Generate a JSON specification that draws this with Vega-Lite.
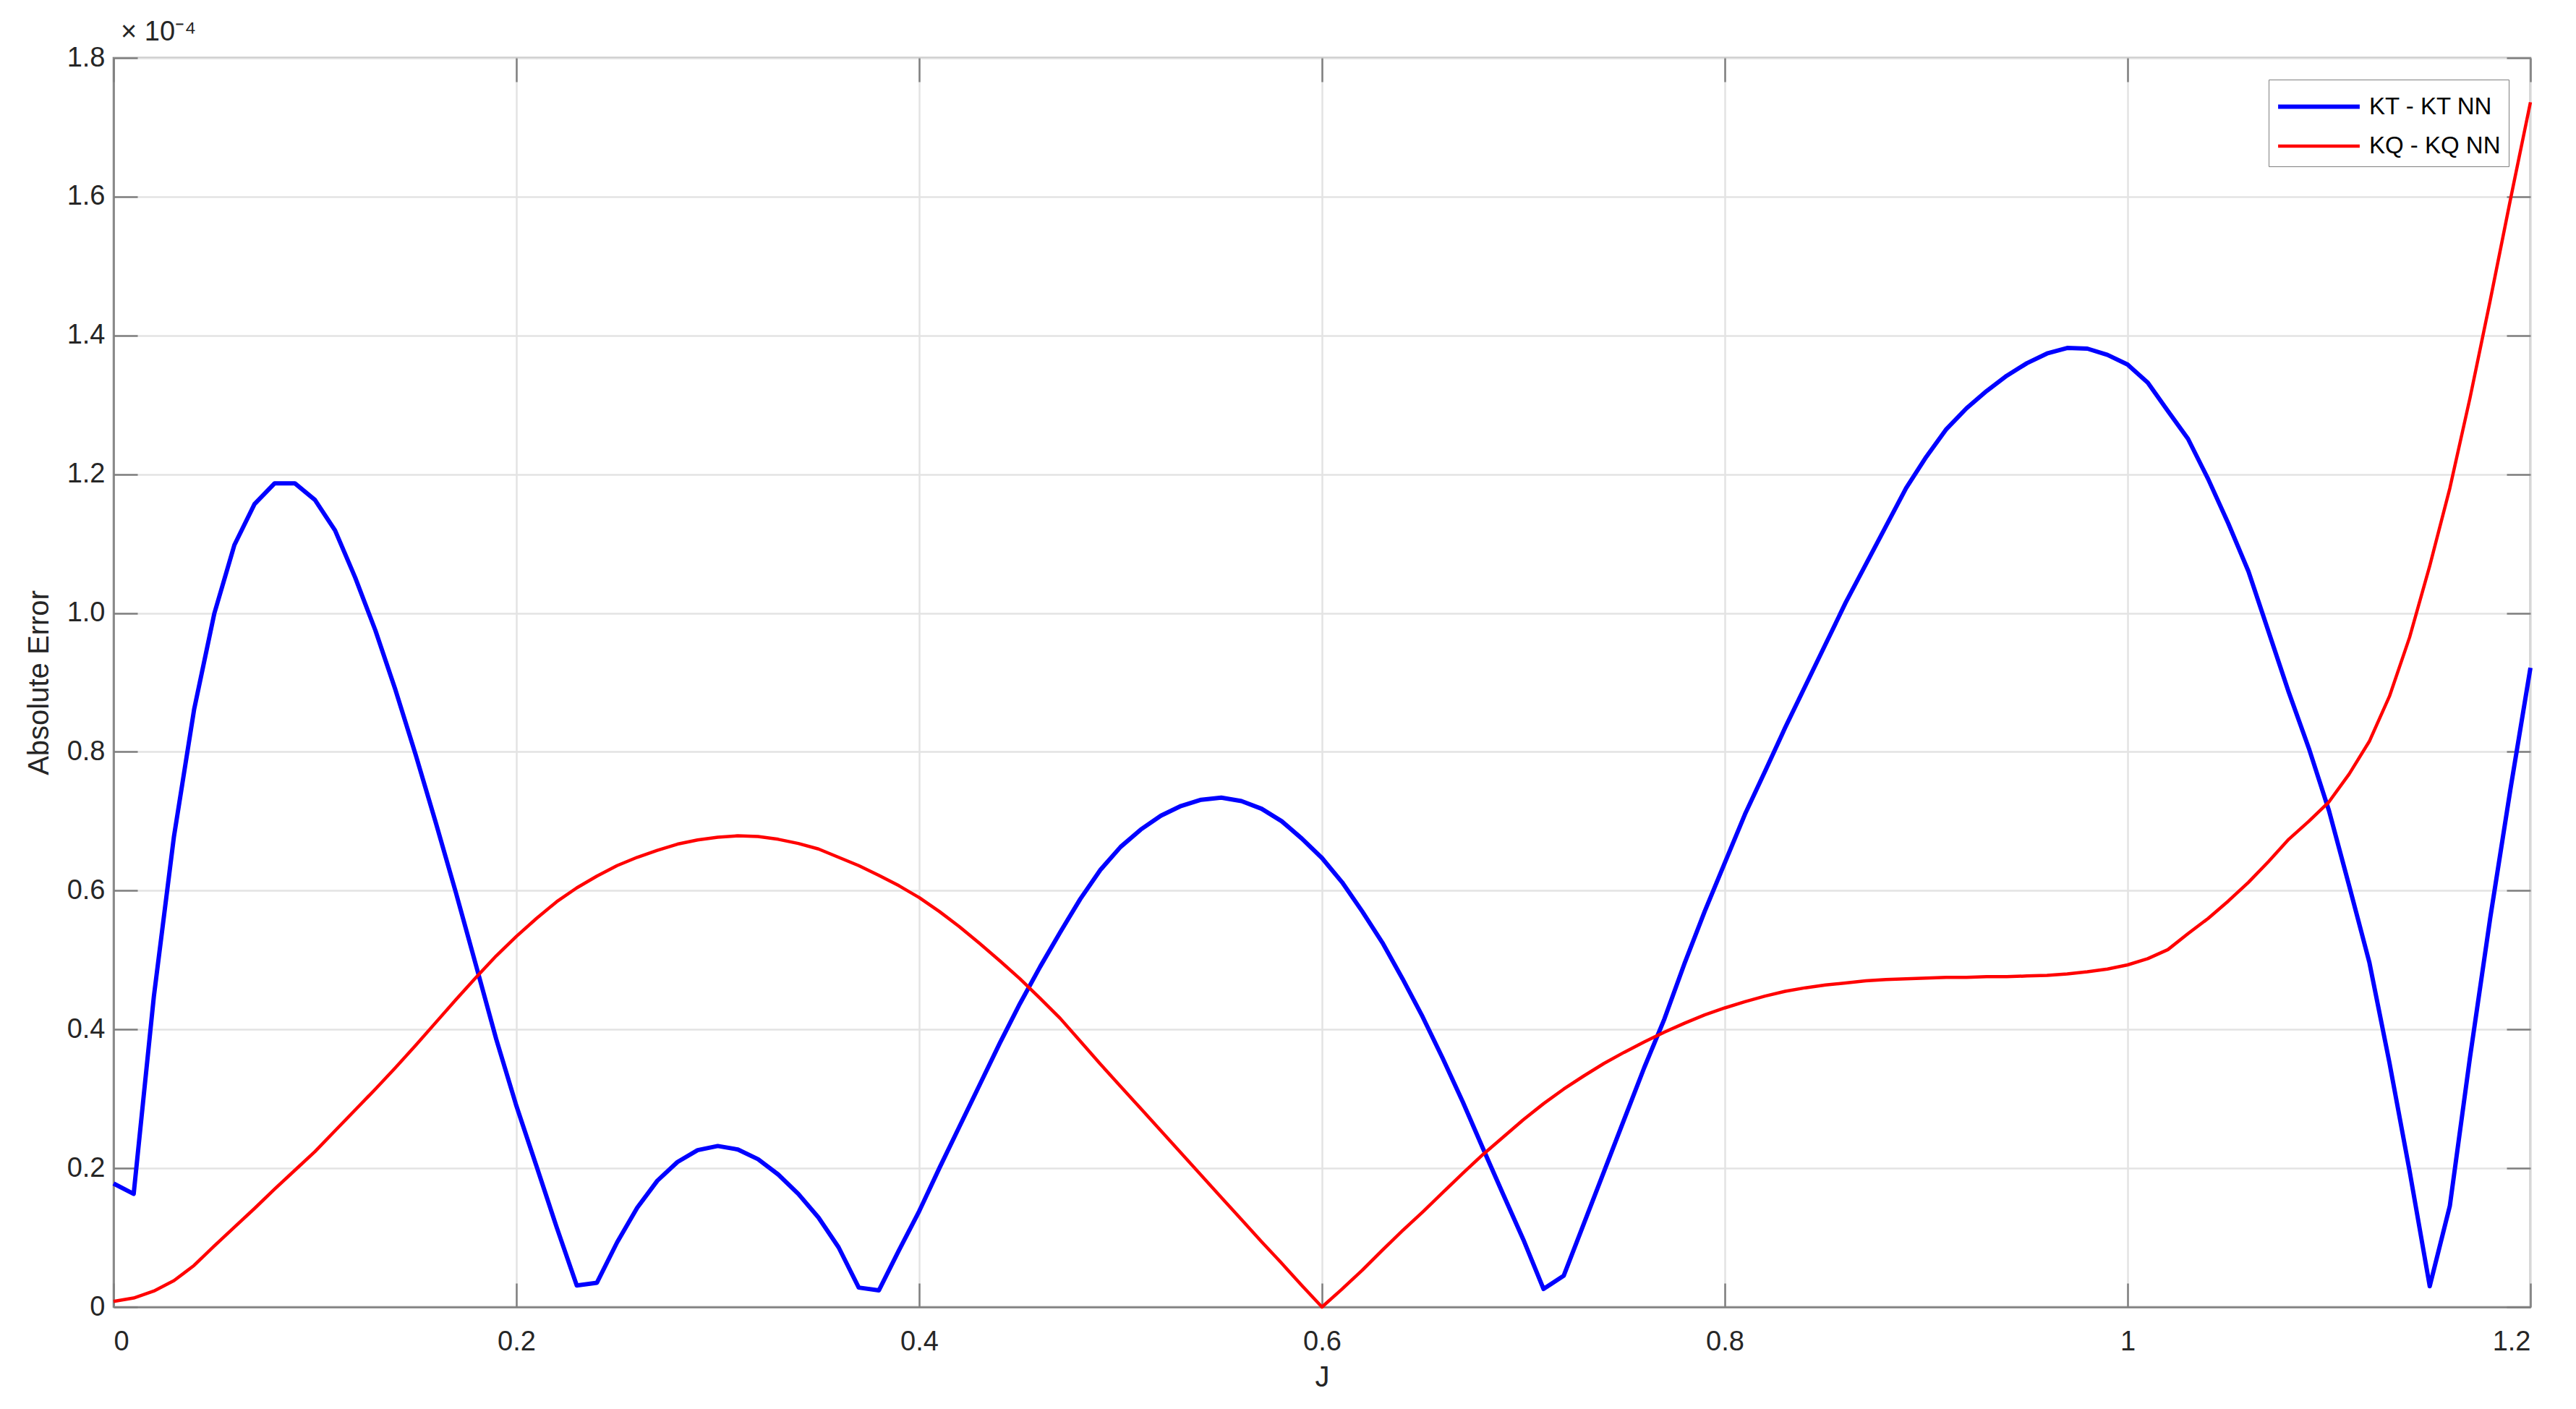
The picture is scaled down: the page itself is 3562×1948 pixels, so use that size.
{
  "$schema": "https://vega.github.io/schema/vega-lite/v6.json",
  "width": 3342,
  "height": 1727,
  "autosize": {"type": "none"},
  "padding": {"left": 157, "top": 80, "right": 63, "bottom": 141},
  "background": "white",
  "config": {
    "font": "Liberation Sans",
    "view": {"stroke": "#7f7f7f", "strokeWidth": 2.5},
    "axis": {
      "domainColor": "#7f7f7f",
      "domainWidth": 2.5,
      "tickColor": "#7f7f7f",
      "tickWidth": 2.5,
      "tickSize": -33,
      "gridColor": "#e3e3e3",
      "gridWidth": 2.5,
      "labelFont": "Liberation Sans",
      "labelFontSize": 38,
      "labelColor": "#262626",
      "titleFont": "Liberation Sans",
      "titleFontSize": 40,
      "titleFontWeight": "normal",
      "titleColor": "#262626"
    },
    "legend": {
      "orient": "top-right", "offset": 30,
      "symbolType": "M-2.4,0H2.4", "symbolSize": 2209, "symbolOffset": 32,
      "labelFontSize": 33, "labelFont": "Liberation Sans", "labelColor": "#000000", "labelOffset": 43, "labelLimit": 600,
      "fillColor": "white", "strokeColor": "#7f7f7f", "padding": 11, "rowPadding": 11
    }
  },
  "title": {
    "text": "× 10⁻⁴",
    "anchor": "start",
    "frame": "group",
    "fontSize": 38,
    "fontWeight": "normal",
    "font": "Liberation Sans",
    "color": "#262626",
    "dx": 10,
    "offset": -3
  },
  "datasets": {
    "kt": [
      {"J":0.00,"e":0.178,"s":"KT - KT NN"},{"J":0.01,"e":0.163,"s":"KT - KT NN"},{"J":0.02,"e":0.447,"s":"KT - KT NN"},{"J":0.03,"e":0.678,"s":"KT - KT NN"},{"J":0.04,"e":0.861,"s":"KT - KT NN"},{"J":0.05,"e":0.999,"s":"KT - KT NN"},{"J":0.06,"e":1.098,"s":"KT - KT NN"},{"J":0.07,"e":1.157,"s":"KT - KT NN"},{"J":0.08,"e":1.187,"s":"KT - KT NN"},{"J":0.09,"e":1.187,"s":"KT - KT NN"},
      {"J":0.10,"e":1.163,"s":"KT - KT NN"},{"J":0.11,"e":1.119,"s":"KT - KT NN"},{"J":0.12,"e":1.051,"s":"KT - KT NN"},{"J":0.13,"e":0.975,"s":"KT - KT NN"},{"J":0.14,"e":0.889,"s":"KT - KT NN"},{"J":0.15,"e":0.796,"s":"KT - KT NN"},{"J":0.16,"e":0.698,"s":"KT - KT NN"},{"J":0.17,"e":0.597,"s":"KT - KT NN"},{"J":0.18,"e":0.492,"s":"KT - KT NN"},{"J":0.19,"e":0.386,"s":"KT - KT NN"},
      {"J":0.20,"e":0.290,"s":"KT - KT NN"},{"J":0.21,"e":0.203,"s":"KT - KT NN"},{"J":0.22,"e":0.115,"s":"KT - KT NN"},{"J":0.23,"e":0.031,"s":"KT - KT NN"},{"J":0.24,"e":0.035,"s":"KT - KT NN"},{"J":0.25,"e":0.093,"s":"KT - KT NN"},{"J":0.26,"e":0.143,"s":"KT - KT NN"},{"J":0.27,"e":0.182,"s":"KT - KT NN"},{"J":0.28,"e":0.209,"s":"KT - KT NN"},{"J":0.29,"e":0.226,"s":"KT - KT NN"},
      {"J":0.30,"e":0.232,"s":"KT - KT NN"},{"J":0.31,"e":0.227,"s":"KT - KT NN"},{"J":0.32,"e":0.213,"s":"KT - KT NN"},{"J":0.33,"e":0.191,"s":"KT - KT NN"},{"J":0.34,"e":0.163,"s":"KT - KT NN"},{"J":0.35,"e":0.129,"s":"KT - KT NN"},{"J":0.36,"e":0.086,"s":"KT - KT NN"},{"J":0.37,"e":0.028,"s":"KT - KT NN"},{"J":0.38,"e":0.024,"s":"KT - KT NN"},{"J":0.39,"e":0.082,"s":"KT - KT NN"},
      {"J":0.40,"e":0.138,"s":"KT - KT NN"},{"J":0.41,"e":0.200,"s":"KT - KT NN"},{"J":0.42,"e":0.260,"s":"KT - KT NN"},{"J":0.43,"e":0.320,"s":"KT - KT NN"},{"J":0.44,"e":0.380,"s":"KT - KT NN"},{"J":0.45,"e":0.437,"s":"KT - KT NN"},{"J":0.46,"e":0.490,"s":"KT - KT NN"},{"J":0.47,"e":0.540,"s":"KT - KT NN"},{"J":0.48,"e":0.588,"s":"KT - KT NN"},{"J":0.49,"e":0.630,"s":"KT - KT NN"},
      {"J":0.50,"e":0.663,"s":"KT - KT NN"},{"J":0.51,"e":0.688,"s":"KT - KT NN"},{"J":0.52,"e":0.708,"s":"KT - KT NN"},{"J":0.53,"e":0.722,"s":"KT - KT NN"},{"J":0.54,"e":0.731,"s":"KT - KT NN"},{"J":0.55,"e":0.734,"s":"KT - KT NN"},{"J":0.56,"e":0.729,"s":"KT - KT NN"},{"J":0.57,"e":0.718,"s":"KT - KT NN"},{"J":0.58,"e":0.700,"s":"KT - KT NN"},{"J":0.59,"e":0.675,"s":"KT - KT NN"},
      {"J":0.60,"e":0.647,"s":"KT - KT NN"},{"J":0.61,"e":0.612,"s":"KT - KT NN"},{"J":0.62,"e":0.570,"s":"KT - KT NN"},{"J":0.63,"e":0.525,"s":"KT - KT NN"},{"J":0.64,"e":0.473,"s":"KT - KT NN"},{"J":0.65,"e":0.418,"s":"KT - KT NN"},{"J":0.66,"e":0.358,"s":"KT - KT NN"},{"J":0.67,"e":0.295,"s":"KT - KT NN"},{"J":0.68,"e":0.228,"s":"KT - KT NN"},{"J":0.69,"e":0.162,"s":"KT - KT NN"},
      {"J":0.70,"e":0.097,"s":"KT - KT NN"},{"J":0.71,"e":0.026,"s":"KT - KT NN"},{"J":0.72,"e":0.045,"s":"KT - KT NN"},{"J":0.73,"e":0.120,"s":"KT - KT NN"},{"J":0.74,"e":0.195,"s":"KT - KT NN"},{"J":0.75,"e":0.270,"s":"KT - KT NN"},{"J":0.76,"e":0.345,"s":"KT - KT NN"},{"J":0.77,"e":0.415,"s":"KT - KT NN"},{"J":0.78,"e":0.495,"s":"KT - KT NN"},{"J":0.79,"e":0.570,"s":"KT - KT NN"},
      {"J":0.80,"e":0.640,"s":"KT - KT NN"},{"J":0.81,"e":0.710,"s":"KT - KT NN"},{"J":0.82,"e":0.772,"s":"KT - KT NN"},{"J":0.83,"e":0.835,"s":"KT - KT NN"},{"J":0.84,"e":0.895,"s":"KT - KT NN"},{"J":0.85,"e":0.955,"s":"KT - KT NN"},{"J":0.86,"e":1.015,"s":"KT - KT NN"},{"J":0.87,"e":1.070,"s":"KT - KT NN"},{"J":0.88,"e":1.125,"s":"KT - KT NN"},{"J":0.89,"e":1.180,"s":"KT - KT NN"},
      {"J":0.90,"e":1.225,"s":"KT - KT NN"},{"J":0.91,"e":1.265,"s":"KT - KT NN"},{"J":0.92,"e":1.295,"s":"KT - KT NN"},{"J":0.93,"e":1.320,"s":"KT - KT NN"},{"J":0.94,"e":1.342,"s":"KT - KT NN"},{"J":0.95,"e":1.360,"s":"KT - KT NN"},{"J":0.96,"e":1.374,"s":"KT - KT NN"},{"J":0.97,"e":1.382,"s":"KT - KT NN"},{"J":0.98,"e":1.381,"s":"KT - KT NN"},{"J":0.99,"e":1.372,"s":"KT - KT NN"},
      {"J":1.00,"e":1.358,"s":"KT - KT NN"},{"J":1.01,"e":1.332,"s":"KT - KT NN"},{"J":1.02,"e":1.291,"s":"KT - KT NN"},{"J":1.03,"e":1.251,"s":"KT - KT NN"},{"J":1.04,"e":1.193,"s":"KT - KT NN"},{"J":1.05,"e":1.129,"s":"KT - KT NN"},{"J":1.06,"e":1.060,"s":"KT - KT NN"},{"J":1.07,"e":0.973,"s":"KT - KT NN"},{"J":1.08,"e":0.886,"s":"KT - KT NN"},{"J":1.09,"e":0.805,"s":"KT - KT NN"},
      {"J":1.10,"e":0.715,"s":"KT - KT NN"},{"J":1.11,"e":0.607,"s":"KT - KT NN"},{"J":1.12,"e":0.497,"s":"KT - KT NN"},{"J":1.13,"e":0.352,"s":"KT - KT NN"},{"J":1.14,"e":0.196,"s":"KT - KT NN"},{"J":1.15,"e":0.030,"s":"KT - KT NN"},{"J":1.16,"e":0.146,"s":"KT - KT NN"},{"J":1.17,"e":0.360,"s":"KT - KT NN"},{"J":1.18,"e":0.560,"s":"KT - KT NN"},{"J":1.19,"e":0.745,"s":"KT - KT NN"},
      {"J":1.20,"e":0.921,"s":"KT - KT NN"}
    ],
    "kq": [
      {"J":0.00,"e":0.008,"s":"KQ - KQ NN"},{"J":0.01,"e":0.013,"s":"KQ - KQ NN"},{"J":0.02,"e":0.023,"s":"KQ - KQ NN"},{"J":0.03,"e":0.038,"s":"KQ - KQ NN"},{"J":0.04,"e":0.060,"s":"KQ - KQ NN"},{"J":0.05,"e":0.088,"s":"KQ - KQ NN"},{"J":0.06,"e":0.115,"s":"KQ - KQ NN"},{"J":0.07,"e":0.142,"s":"KQ - KQ NN"},{"J":0.08,"e":0.170,"s":"KQ - KQ NN"},{"J":0.09,"e":0.197,"s":"KQ - KQ NN"},
      {"J":0.10,"e":0.224,"s":"KQ - KQ NN"},{"J":0.11,"e":0.254,"s":"KQ - KQ NN"},{"J":0.12,"e":0.284,"s":"KQ - KQ NN"},{"J":0.13,"e":0.314,"s":"KQ - KQ NN"},{"J":0.14,"e":0.345,"s":"KQ - KQ NN"},{"J":0.15,"e":0.377,"s":"KQ - KQ NN"},{"J":0.16,"e":0.410,"s":"KQ - KQ NN"},{"J":0.17,"e":0.443,"s":"KQ - KQ NN"},{"J":0.18,"e":0.475,"s":"KQ - KQ NN"},{"J":0.19,"e":0.506,"s":"KQ - KQ NN"},
      {"J":0.20,"e":0.534,"s":"KQ - KQ NN"},{"J":0.21,"e":0.560,"s":"KQ - KQ NN"},{"J":0.22,"e":0.584,"s":"KQ - KQ NN"},{"J":0.23,"e":0.604,"s":"KQ - KQ NN"},{"J":0.24,"e":0.621,"s":"KQ - KQ NN"},{"J":0.25,"e":0.636,"s":"KQ - KQ NN"},{"J":0.26,"e":0.648,"s":"KQ - KQ NN"},{"J":0.27,"e":0.658,"s":"KQ - KQ NN"},{"J":0.28,"e":0.667,"s":"KQ - KQ NN"},{"J":0.29,"e":0.673,"s":"KQ - KQ NN"},
      {"J":0.30,"e":0.677,"s":"KQ - KQ NN"},{"J":0.31,"e":0.679,"s":"KQ - KQ NN"},{"J":0.32,"e":0.678,"s":"KQ - KQ NN"},{"J":0.33,"e":0.674,"s":"KQ - KQ NN"},{"J":0.34,"e":0.668,"s":"KQ - KQ NN"},{"J":0.35,"e":0.660,"s":"KQ - KQ NN"},{"J":0.36,"e":0.648,"s":"KQ - KQ NN"},{"J":0.37,"e":0.636,"s":"KQ - KQ NN"},{"J":0.38,"e":0.622,"s":"KQ - KQ NN"},{"J":0.39,"e":0.607,"s":"KQ - KQ NN"},
      {"J":0.40,"e":0.590,"s":"KQ - KQ NN"},{"J":0.41,"e":0.570,"s":"KQ - KQ NN"},{"J":0.42,"e":0.548,"s":"KQ - KQ NN"},{"J":0.43,"e":0.524,"s":"KQ - KQ NN"},{"J":0.44,"e":0.499,"s":"KQ - KQ NN"},{"J":0.45,"e":0.473,"s":"KQ - KQ NN"},{"J":0.46,"e":0.445,"s":"KQ - KQ NN"},{"J":0.47,"e":0.416,"s":"KQ - KQ NN"},{"J":0.48,"e":0.383,"s":"KQ - KQ NN"},{"J":0.49,"e":0.350,"s":"KQ - KQ NN"},
      {"J":0.50,"e":0.318,"s":"KQ - KQ NN"},{"J":0.51,"e":0.286,"s":"KQ - KQ NN"},{"J":0.52,"e":0.254,"s":"KQ - KQ NN"},{"J":0.53,"e":0.222,"s":"KQ - KQ NN"},{"J":0.54,"e":0.190,"s":"KQ - KQ NN"},{"J":0.55,"e":0.158,"s":"KQ - KQ NN"},{"J":0.56,"e":0.126,"s":"KQ - KQ NN"},{"J":0.57,"e":0.094,"s":"KQ - KQ NN"},{"J":0.58,"e":0.063,"s":"KQ - KQ NN"},{"J":0.59,"e":0.031,"s":"KQ - KQ NN"},
      {"J":0.60,"e":0.000,"s":"KQ - KQ NN"},{"J":0.61,"e":0.026,"s":"KQ - KQ NN"},{"J":0.62,"e":0.053,"s":"KQ - KQ NN"},{"J":0.63,"e":0.082,"s":"KQ - KQ NN"},{"J":0.64,"e":0.110,"s":"KQ - KQ NN"},{"J":0.65,"e":0.137,"s":"KQ - KQ NN"},{"J":0.66,"e":0.165,"s":"KQ - KQ NN"},{"J":0.67,"e":0.193,"s":"KQ - KQ NN"},{"J":0.68,"e":0.220,"s":"KQ - KQ NN"},{"J":0.69,"e":0.245,"s":"KQ - KQ NN"},
      {"J":0.70,"e":0.270,"s":"KQ - KQ NN"},{"J":0.71,"e":0.293,"s":"KQ - KQ NN"},{"J":0.72,"e":0.314,"s":"KQ - KQ NN"},{"J":0.73,"e":0.333,"s":"KQ - KQ NN"},{"J":0.74,"e":0.351,"s":"KQ - KQ NN"},{"J":0.75,"e":0.367,"s":"KQ - KQ NN"},{"J":0.76,"e":0.382,"s":"KQ - KQ NN"},{"J":0.77,"e":0.396,"s":"KQ - KQ NN"},{"J":0.78,"e":0.409,"s":"KQ - KQ NN"},{"J":0.79,"e":0.421,"s":"KQ - KQ NN"},
      {"J":0.80,"e":0.431,"s":"KQ - KQ NN"},{"J":0.81,"e":0.440,"s":"KQ - KQ NN"},{"J":0.82,"e":0.448,"s":"KQ - KQ NN"},{"J":0.83,"e":0.455,"s":"KQ - KQ NN"},{"J":0.84,"e":0.460,"s":"KQ - KQ NN"},{"J":0.85,"e":0.464,"s":"KQ - KQ NN"},{"J":0.86,"e":0.467,"s":"KQ - KQ NN"},{"J":0.87,"e":0.470,"s":"KQ - KQ NN"},{"J":0.88,"e":0.472,"s":"KQ - KQ NN"},{"J":0.89,"e":0.473,"s":"KQ - KQ NN"},
      {"J":0.90,"e":0.474,"s":"KQ - KQ NN"},{"J":0.91,"e":0.475,"s":"KQ - KQ NN"},{"J":0.92,"e":0.475,"s":"KQ - KQ NN"},{"J":0.93,"e":0.476,"s":"KQ - KQ NN"},{"J":0.94,"e":0.476,"s":"KQ - KQ NN"},{"J":0.95,"e":0.477,"s":"KQ - KQ NN"},{"J":0.96,"e":0.478,"s":"KQ - KQ NN"},{"J":0.97,"e":0.480,"s":"KQ - KQ NN"},{"J":0.98,"e":0.483,"s":"KQ - KQ NN"},{"J":0.99,"e":0.487,"s":"KQ - KQ NN"},
      {"J":1.00,"e":0.493,"s":"KQ - KQ NN"},{"J":1.01,"e":0.502,"s":"KQ - KQ NN"},{"J":1.02,"e":0.515,"s":"KQ - KQ NN"},{"J":1.03,"e":0.538,"s":"KQ - KQ NN"},{"J":1.04,"e":0.560,"s":"KQ - KQ NN"},{"J":1.05,"e":0.585,"s":"KQ - KQ NN"},{"J":1.06,"e":0.612,"s":"KQ - KQ NN"},{"J":1.07,"e":0.642,"s":"KQ - KQ NN"},{"J":1.08,"e":0.674,"s":"KQ - KQ NN"},{"J":1.09,"e":0.700,"s":"KQ - KQ NN"},
      {"J":1.10,"e":0.728,"s":"KQ - KQ NN"},{"J":1.11,"e":0.768,"s":"KQ - KQ NN"},{"J":1.12,"e":0.815,"s":"KQ - KQ NN"},{"J":1.13,"e":0.880,"s":"KQ - KQ NN"},{"J":1.14,"e":0.965,"s":"KQ - KQ NN"},{"J":1.15,"e":1.068,"s":"KQ - KQ NN"},{"J":1.16,"e":1.180,"s":"KQ - KQ NN"},{"J":1.17,"e":1.310,"s":"KQ - KQ NN"},{"J":1.18,"e":1.450,"s":"KQ - KQ NN"},{"J":1.19,"e":1.595,"s":"KQ - KQ NN"},
      {"J":1.20,"e":1.736,"s":"KQ - KQ NN"}
    ]
  },
  "resolve": {"axis": {"x": "independent", "y": "independent"}},
  "layer": [
    {
      "data": {"name": "kt"},
      "mark": {"type": "line", "strokeJoin": "round"},
      "encoding": {
        "x": {
          "field": "J", "type": "quantitative",
          "scale": {"domain": [0, 1.2], "nice": false, "zero": false},
          "axis": {"orient": "bottom", "title": "J", "values": [0, 0.2, 0.4, 0.6, 0.8, 1, 1.2], "format": "~g", "grid": true, "labelPadding": 62, "titlePadding": 10}
        },
        "y": {
          "field": "e", "type": "quantitative",
          "scale": {"domain": [0, 1.8], "nice": false, "zero": false},
          "axis": {"orient": "left", "title": "Absolute Error", "values": [0, 0.2, 0.4, 0.6, 0.8, 1, 1.2, 1.4, 1.6, 1.8], "labelExpr": "datum.value == 0 ? '0' : format(datum.value, '.1f')", "grid": true, "labelPadding": 45, "titlePadding": 18}
        },
        "color": {
          "field": "s", "type": "nominal",
          "scale": {"domain": ["KT - KT NN", "KQ - KQ NN"], "range": ["#0000ff", "#ff0000"]},
          "legend": {"title": null}
        },
        "strokeWidth": {
          "field": "s", "type": "nominal",
          "scale": {"domain": ["KT - KT NN", "KQ - KQ NN"], "range": [6, 4.5]},
          "legend": {"title": null}
        }
      }
    },
    {
      "data": {"name": "kq"},
      "mark": {"type": "line", "strokeJoin": "round"},
      "encoding": {
        "x": {"field": "J", "type": "quantitative", "axis": null},
        "y": {"field": "e", "type": "quantitative", "axis": null},
        "color": {"field": "s", "type": "nominal"},
        "strokeWidth": {"field": "s", "type": "nominal"}
      }
    },
    {
      "data": {"name": "kt"},
      "mark": {"type": "line", "strokeOpacity": 0},
      "encoding": {
        "x": {"field": "J", "type": "quantitative", "axis": {"orient": "top", "title": null, "values": [0, 0.2, 0.4, 0.6, 0.8, 1, 1.2], "labels": false, "grid": false, "domain": false}},
        "y": {"field": "e", "type": "quantitative", "axis": {"orient": "right", "title": null, "values": [0, 0.2, 0.4, 0.6, 0.8, 1, 1.2, 1.4, 1.6, 1.8], "labels": false, "grid": false, "domain": false}}
      }
    }
  ]
}
